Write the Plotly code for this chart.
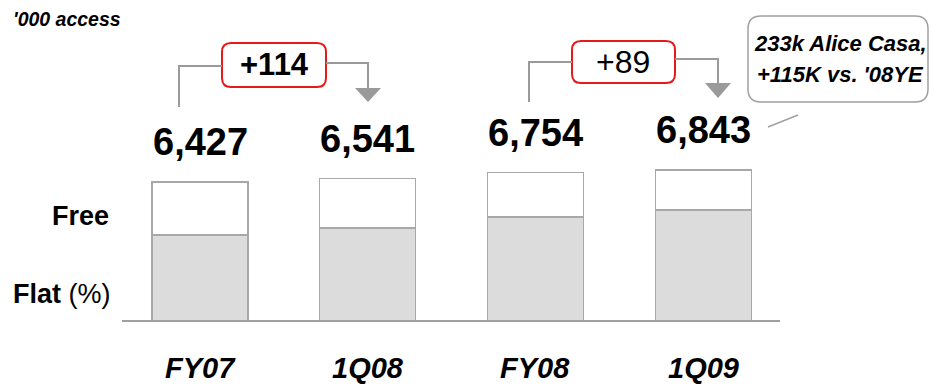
import plotly.graph_objects as go

# ---- data ----
categories = ["FY07", "1Q08", "FY08", "1Q09"]
total_k = [6427, 6541, 6754, 6843]          # '000 accesses
flat_k = [4590, 4833, 5214, 5457]           # flat portion (estimated)
free_k = [t - f for t, f in zip(total_k, flat_k)]
total_labels = ["6,427", "6,541", "6,754", "6,843"]
delta_labels = ["+114", "+89"]
callout_lines = ["233k Alice Casa,", "+115K vs. '08YE"]

W, H = 930, 385
FONT = "Liberation Sans, Arial, sans-serif"


def X(px):
    return px / W


def Y(py):
    return 1 - py / H


def rrect(x0, y0, x1, y1, r):
    p = [
        f"M {X(x0 + r)} {Y(y0)}",
        f"L {X(x1 - r)} {Y(y0)}",
        f"Q {X(x1)} {Y(y0)} {X(x1)} {Y(y0 + r)}",
        f"L {X(x1)} {Y(y1 - r)}",
        f"Q {X(x1)} {Y(y1)} {X(x1 - r)} {Y(y1)}",
        f"L {X(x0 + r)} {Y(y1)}",
        f"Q {X(x0)} {Y(y1)} {X(x0)} {Y(y1 - r)}",
        f"L {X(x0)} {Y(y0 + r)}",
        f"Q {X(x0)} {Y(y0)} {X(x0 + r)} {Y(y0)}",
        "Z",
    ]
    return " ".join(p)


def poly(pts):
    return "M " + " L ".join(f"{X(a)} {Y(b)}" for a, b in pts)


fig = go.Figure()
fig.add_trace(go.Bar(
    x=categories, y=flat_k, name="Flat", width=0.5725,
    marker=dict(color="#dcdcdc", line=dict(color="#a8a8a8", width=1.2)),
    hoverinfo="skip",
))
fig.add_trace(go.Bar(
    x=categories, y=free_k, name="Free", width=0.5725,
    marker=dict(color="#ffffff", line=dict(color="#a8a8a8", width=1.2)),
    hoverinfo="skip",
))

annotations = []
# total labels above bars
for c, t, lab in zip(categories, total_k, total_labels):
    annotations.append(dict(
        x=c, y=t, xref="x", yref="y", text=f"<b>{lab}</b>", showarrow=False,
        xanchor="center", yanchor="middle", yshift=40,
        font=dict(family=FONT, size=38, color="black"),
    ))
# category labels
for c in categories:
    annotations.append(dict(
        x=c, y=Y(368), xref="x", yref="paper", text=f"<b><i>{c}</i></b>",
        showarrow=False, xanchor="center", yanchor="middle",
        font=dict(family=FONT, size=29, color="black"),
    ))
# left labels
annotations.append(dict(x=X(111), y=Y(216), xref="paper", yref="paper",
                        text="<b>Free</b>", showarrow=False, xanchor="right",
                        yanchor="middle", font=dict(family=FONT, size=27, color="black")))
annotations.append(dict(x=X(113), y=Y(294), xref="paper", yref="paper",
                        text="<b>Flat</b> (%)", showarrow=False, xanchor="right",
                        yanchor="middle", font=dict(family=FONT, size=27, color="black")))
annotations.append(dict(x=X(11), y=Y(19), xref="paper", yref="paper",
                        text="<b><i>'000 access</i></b>", showarrow=False, xanchor="left",
                        yanchor="middle", font=dict(family=FONT, size=19.5, color="black")))
# delta boxes text
annotations.append(dict(x=X(274), y=Y(65), xref="paper", yref="paper",
                        text=f"<b>{delta_labels[0]}</b>", showarrow=False,
                        xanchor="center", yanchor="middle",
                        font=dict(family=FONT, size=31, color="black")))
annotations.append(dict(x=X(623), y=Y(62), xref="paper", yref="paper",
                        text=delta_labels[1], showarrow=False,
                        xanchor="center", yanchor="middle",
                        font=dict(family=FONT, size=32, color="black")))
# callout text
for line, cy in zip(callout_lines, [43, 74]):
    annotations.append(dict(x=X(840), y=Y(cy), xref="paper", yref="paper",
                            text=f"<b><i>{line}</i></b>", showarrow=False,
                            xanchor="center", yanchor="middle",
                            font=dict(family=FONT, size=22, color="black")))

GREY = "#9a9a9a"
shapes = [
    # bracket 1
    dict(type="path", xref="paper", yref="paper",
         path=poly([(179, 107), (179, 66), (222, 66)]), line=dict(color=GREY, width=2)),
    dict(type="path", xref="paper", yref="paper",
         path=poly([(326, 63), (368, 63), (368, 89)]), line=dict(color=GREY, width=2)),
    dict(type="path", xref="paper", yref="paper",
         path=poly([(355, 88), (381, 88), (368, 102)]) + " Z",
         line=dict(color=GREY, width=0), fillcolor=GREY),
    dict(type="path", xref="paper", yref="paper", path=rrect(222, 43, 326, 87, 9),
         line=dict(color="#e8191a", width=2), fillcolor="white", layer="below"),
    # bracket 2
    dict(type="path", xref="paper", yref="paper",
         path=poly([(529, 102), (529, 62), (572, 62)]), line=dict(color=GREY, width=2)),
    dict(type="path", xref="paper", yref="paper",
         path=poly([(675, 59), (718, 59), (718, 84)]), line=dict(color=GREY, width=2)),
    dict(type="path", xref="paper", yref="paper",
         path=poly([(705, 83), (731, 83), (718, 98)]) + " Z",
         line=dict(color=GREY, width=0), fillcolor=GREY),
    dict(type="path", xref="paper", yref="paper", path=rrect(572, 41, 675, 83, 9),
         line=dict(color="#e8191a", width=2), fillcolor="white", layer="below"),
    # callout
    dict(type="path", xref="paper", yref="paper", path=rrect(748, 16, 928, 102, 13),
         line=dict(color="#a0a0a0", width=1.5), fillcolor="white", layer="below"),
    dict(type="line", xref="paper", yref="paper", x0=X(768), y0=Y(127), x1=X(798), y1=Y(115),
         line=dict(color="#a0a0a0", width=1.5)),
]

# axis mapping: category centre spacing ~167.7 px, baseline at pixel 320
x_dom = [X(122), X(780)]
x_rng = [(122 - 200) / 167.7, (780 - 200) / 167.7]
y_base = 1643
y_per_px = 34.67

fig.update_layout(
    width=W, height=H, margin=dict(l=0, r=0, t=0, b=0),
    paper_bgcolor="white", plot_bgcolor="rgba(0,0,0,0)",
    barmode="stack", showlegend=False,
    xaxis=dict(domain=x_dom, range=x_rng, showticklabels=False, ticks="",
               showgrid=False, zeroline=False, showline=True,
               linecolor="#a0a0a0", linewidth=1.5, fixedrange=True),
    yaxis=dict(domain=[Y(320), 1], range=[y_base, y_base + 320 * y_per_px],
               visible=False, showgrid=False, zeroline=False, fixedrange=True),
    annotations=annotations, shapes=shapes,
    font=dict(family=FONT),
)

fig.write_html("out.html")
